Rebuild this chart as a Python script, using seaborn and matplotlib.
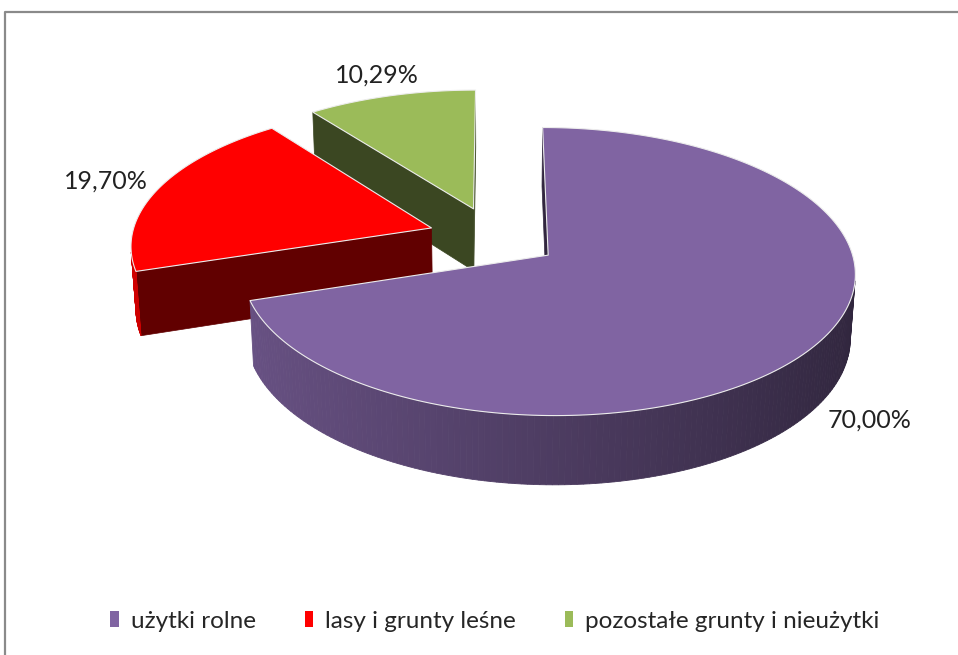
import numpy as np
import matplotlib
matplotlib.use("Agg")
import matplotlib.pyplot as plt
from matplotlib.patches import Polygon, Patch
from matplotlib.lines import Line2D
from matplotlib.colors import to_rgb
import seaborn as sns

# data
categories = ["użytki rolne", "lasy i grunty leśne", "pozostałe grunty i nieużytki"]
shares = [70.00, 19.70, 10.29]
share_labels = ["70,00%", "19,70%", "10,29%"]
slice_colors = ["#8064A2", "#FF0000", "#9BBB59"]

# 3d view settings (Excel-like exploded 3d pie)
TILT = np.radians(27.4)
DIST = 7.9
SCALE = 300 * DIST
HEIGHT = 0.24
EXPLODE = 0.22
ORIGIN = (494, 237)
CAM = np.array([0.0, -DIST * np.cos(TILT), DIST * np.sin(TILT)])
FWD = np.array([0.0, np.cos(TILT), -np.sin(TILT)])
UP = np.array([0.0, np.sin(TILT), np.cos(TILT)])


def project(p):
    v = np.asarray(p) - CAM
    d = v @ FWD
    return ORIGIN[0] + v[0] * SCALE / d, ORIGIN[1] - (v @ UP) * SCALE / d


def shade(color, k):
    return tuple(np.clip(np.array(to_rgb(color)) * k, 0, 1))


def faces_camera(normal, point):
    return np.dot(normal, CAM - point) > 0


sns.set_style("white")
plt.rcParams["font.family"] = ["Lato", "DejaVu Sans"]

fig = plt.figure(figsize=(9.58, 6.55), dpi=100)
ax = fig.add_axes([0, 0, 1, 1])
ax.set_xlim(0, 958)
ax.set_ylim(655, 0)
ax.axis("off")

fracs = np.array(shares) / np.sum(shares)
starts = 90 - 360 * np.concatenate([[0], np.cumsum(fracs)[:-1]])
slices = []
for i, f in enumerate(fracs):
    t1 = np.radians(starts[i])
    t0 = t1 - np.radians(360 * f)
    mid = (t0 + t1) / 2
    apex = EXPLODE * np.array([np.cos(mid), np.sin(mid), 0.0])
    slices.append((i, t0, t1, mid, apex))

# paint back-to-front
for i, t0, t1, mid, apex in sorted(slices, key=lambda s: -s[4][1]):
    col = slice_colors[i]
    low = apex + np.array([0, 0, -HEIGHT])

    def rim(t, z):
        return apex + np.array([np.cos(t), np.sin(t), z])

    # radial walls
    for t, nang in [(t1, t1 + np.pi / 2), (t0, t0 - np.pi / 2)]:
        n = np.array([np.cos(nang), np.sin(nang), 0])
        midp = apex + 0.5 * np.array([np.cos(t), np.sin(t), -HEIGHT])
        if faces_camera(n, midp):
            pts = [project(apex), project(rim(t, 0)), project(rim(t, -HEIGHT)), project(low)]
            c = shade(col, 0.38)
            ax.add_patch(Polygon(pts, closed=True, facecolor=c, edgecolor=c, lw=0.5))

    # outer curved wall
    ts = np.linspace(t0, t1, 240)
    for a, b in zip(ts[:-1], ts[1:]):
        m = (a + b) / 2
        n = np.array([np.cos(m), np.sin(m), 0])
        if faces_camera(n, rim(m, -HEIGHT / 2)):
            pts = [project(rim(a, 0)), project(rim(b, 0)),
                   project(rim(b, -HEIGHT)), project(rim(a, -HEIGHT))]
            c = shade(col, 0.6 - 0.22 * np.cos(m))
            ax.add_patch(Polygon(pts, closed=True, facecolor=c, edgecolor=c, lw=0.6))

    # top face
    arc = [project(rim(t, 0)) for t in np.linspace(t0, t1, 200)]
    ax.add_patch(Polygon([project(apex)] + arc, closed=True, facecolor=col,
                         edgecolor="#ececec", lw=0.8, joinstyle="round"))

    # value label, pushed below the side wall for front-facing slices
    lz = -1.4 * HEIGHT * max(0.0, -np.sin(mid))
    lp = apex + np.array([1.2 * np.cos(mid), 1.2 * np.sin(mid), lz])
    lx, ly = project(lp)
    ax.text(lx, ly, share_labels[i], ha="center", va="center", fontsize=18, color="#222222")

# chart frame (top and left edges visible)
fig.add_artist(Line2D([5 / 958, 5 / 958, 1], [0, 1 - 12 / 655, 1 - 12 / 655],
                      transform=fig.transFigure, color="#8a8a8a", lw=1.6))

handles = [Patch(facecolor=c, edgecolor="none") for c in slice_colors]
fig.legend(handles, categories, loc="center", bbox_to_anchor=(495 / 958, 1 - 621 / 655),
           ncol=3, frameon=False, fontsize=17.5, handlelength=0.35, handleheight=0.6,
           handletextpad=0.5, columnspacing=2.0)

fig.savefig("out.png", dpi=100)
